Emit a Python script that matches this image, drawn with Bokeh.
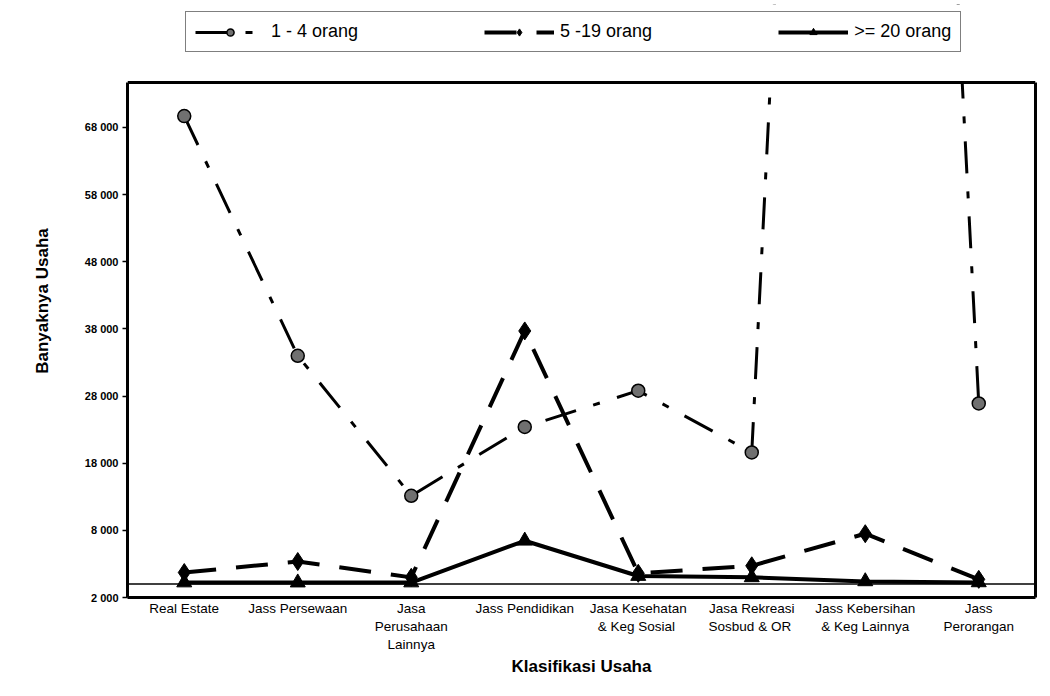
from bokeh.plotting import figure
from bokeh.models import (FactorRange, FixedTicker, Legend, LegendItem, Span, Title, BoxAnnotation,
                          Range1d, CategoricalAxis, LinearAxis, CustomJSTickFormatter)
from bokeh.embed import file_html
from bokeh.resources import INLINE

# ---- data ----
categories = ["Real Estate", "Jass Persewaan", "Jasa Perusahaan Lainnya", "Jass Pendidikan",
              "Jasa Kesehatan & Keg Sosial", "Jasa Rekreasi Sosbud & OR",
              "Jass Kebersihan & Keg Lainnya", "Jass Perorangan"]
category_labels = ["Real Estate", "Jass Persewaan", "Jasa\nPerusahaan\nLainnya", "Jass Pendidikan",
                   "Jasa Kesehatan\n& Keg  Sosial", "Jasa Rekreasi\nSosbud  & OR",
                   "Jass Kebersihan\n& Keg Lainnya", "Jass\nPerorangan"]
series_names = ["1 - 4 orang", "5 -19 orang", ">= 20 orang"]
s_1_4 = [69700, 34000, 13150, 23400, 28800, 19600, 355000, 26900]
s_5_19 = [1720, 3360, 1000, 37700, 1600, 2720, 7500, 700]
s_20 = [230, 220, 230, 6450, 1200, 1000, 400, 250]
y_ticks = [-2000, 8000, 18000, 28000, 38000, 48000, 58000, 68000]
y_tick_labels = ["2 000", "8 000", "18 000", "28 000", "38 000", "48 000", "58 000", "68 000"]
y_min, y_max = -2000, 74700
x_title = "Klasifikasi Usaha"
y_title = "Banyaknya Usaha"

FONT = "Liberation Sans"

# the frame also holds the legend strip above the plotting area
W, H = 1042, 688
B_LEFT, B_RIGHT, B_TOP, B_BOTTOM = 127, 7, 4, 91
PLOT_AREA_H = 515          # px used by y_min..y_max
frame_h = H - B_TOP - B_BOTTOM
y_top = y_min + (y_max - y_min) * frame_h / PLOT_AREA_H

p = figure(width=W, height=H, output_backend="svg", toolbar_location=None,
           x_range=FactorRange(*categories, range_padding=0),
           y_range=Range1d(y_min, y_top),
           min_border_left=B_LEFT, min_border_right=B_RIGHT,
           min_border_top=B_TOP, min_border_bottom=B_BOTTOM)
p.xgrid.grid_line_color = None
p.ygrid.grid_line_color = None
p.background_fill_color = "white"
p.border_fill_color = "white"
p.outline_line_color = None

# y axis
p.yaxis.ticker = FixedTicker(ticks=y_ticks)
p.yaxis.bounds = (y_min, y_max)
p.yaxis.major_label_overrides = {t: l for t, l in zip(y_ticks, y_tick_labels)}
p.yaxis.minor_tick_line_color = None
p.yaxis.major_tick_out = 5
p.yaxis.major_tick_in = 0
p.yaxis.major_tick_line_width = 1.5
p.yaxis.axis_line_width = 3
p.yaxis.major_label_standoff = 4
p.yaxis.major_label_text_font = FONT
p.yaxis.major_label_text_font_size = "11px"
p.yaxis.major_label_text_font_style = "bold"
p.yaxis.major_label_text_color = "black"
p.yaxis.axis_label = y_title
p.yaxis.axis_label_text_font = FONT
p.yaxis.axis_label_text_font_size = "17px"
p.yaxis.axis_label_text_font_style = "bold"
p.yaxis.axis_label_text_color = "black"
p.yaxis.axis_label_standoff = 30

# right border of the plotting area
r_ax = LinearAxis(ticker=FixedTicker(ticks=[]), bounds=(y_min, y_max), axis_line_width=3,
                  major_tick_line_color=None, minor_tick_line_color=None,
                  major_label_text_alpha=0, major_label_standoff=0)
p.add_layout(r_ax, "right")

# x axis: one axis row per text line of the category labels
split_labels = [lab.split("\n") for lab in category_labels]
n_rows = max(len(s) for s in split_labels)
for row in range(n_rows):
    row_map = {c: (s[row] if row < len(s) else " ") for c, s in zip(categories, split_labels)}
    if row == 0:
        ax = p.xaxis[0]
        ax.axis_line_width = 3
    else:
        ax = CategoricalAxis(axis_line_color=None)
        p.add_layout(ax, "below")
    ax.formatter = CustomJSTickFormatter(args=dict(lab_map=row_map),
                                         code="return (tick in lab_map) ? lab_map[tick] : ' ';")
    ax.major_tick_line_color = None
    ax.minor_tick_line_color = None
    ax.major_tick_out = 0
    ax.major_tick_in = 0
    ax.major_label_standoff = 3 if row == 0 else 0
    ax.major_label_text_font = FONT
    ax.major_label_text_font_size = "13.5px"
    ax.major_label_text_color = "black"

p.add_layout(Title(text=x_title, align="center", offset=-66, text_font=FONT,
                   text_font_size="17px", text_font_style="bold", standoff=0,
                   text_color="black"), "below")

# series
l1 = p.line(categories, s_1_4, line_color="black", line_width=3, line_dash="32 18 7 18")
m1 = p.scatter(categories, s_1_4, marker="circle", size=13, fill_color="#707070",
               line_color="black", line_width=1.5)
l2 = p.line(categories, s_5_19, line_color="black", line_width=4, line_dash="32 20")
m2 = p.scatter(categories, s_5_19, marker="diamond", size=18, fill_color="black", line_color="black")
l3 = p.line(categories, s_20, line_color="black", line_width=4)
m3 = p.scatter(categories, s_20, marker="triangle", size=15, fill_color="black", line_color="black")

# white strip above the plotting area (lines leaving the top are cut there)
p.add_layout(BoxAnnotation(bottom=y_max, fill_color="white", fill_alpha=1.0, line_color=None))
# zero line (category axis crossing) and top border of the plotting area
p.add_layout(Span(location=0, dimension="width", line_color="black", line_width=1.5))
p.add_layout(Span(location=y_max, dimension="width", line_color="black", line_width=3))

legend = Legend(items=[LegendItem(label=series_names[0], renderers=[l1, m1]),
                       LegendItem(label=series_names[1], renderers=[l2, m2]),
                       LegendItem(label=series_names[2], renderers=[l3, m3])],
                orientation="horizontal", location=(58, frame_h - 48),
                glyph_width=70, glyph_height=18, label_standoff=6, spacing=126, padding=9,
                label_text_font=FONT, label_text_font_size="18px", label_text_color="black",
                border_line_color="black", border_line_width=1.5,
                background_fill_alpha=1.0)
p.add_layout(legend, "center")

open("out.html", "w").write(file_html(p, INLINE))
